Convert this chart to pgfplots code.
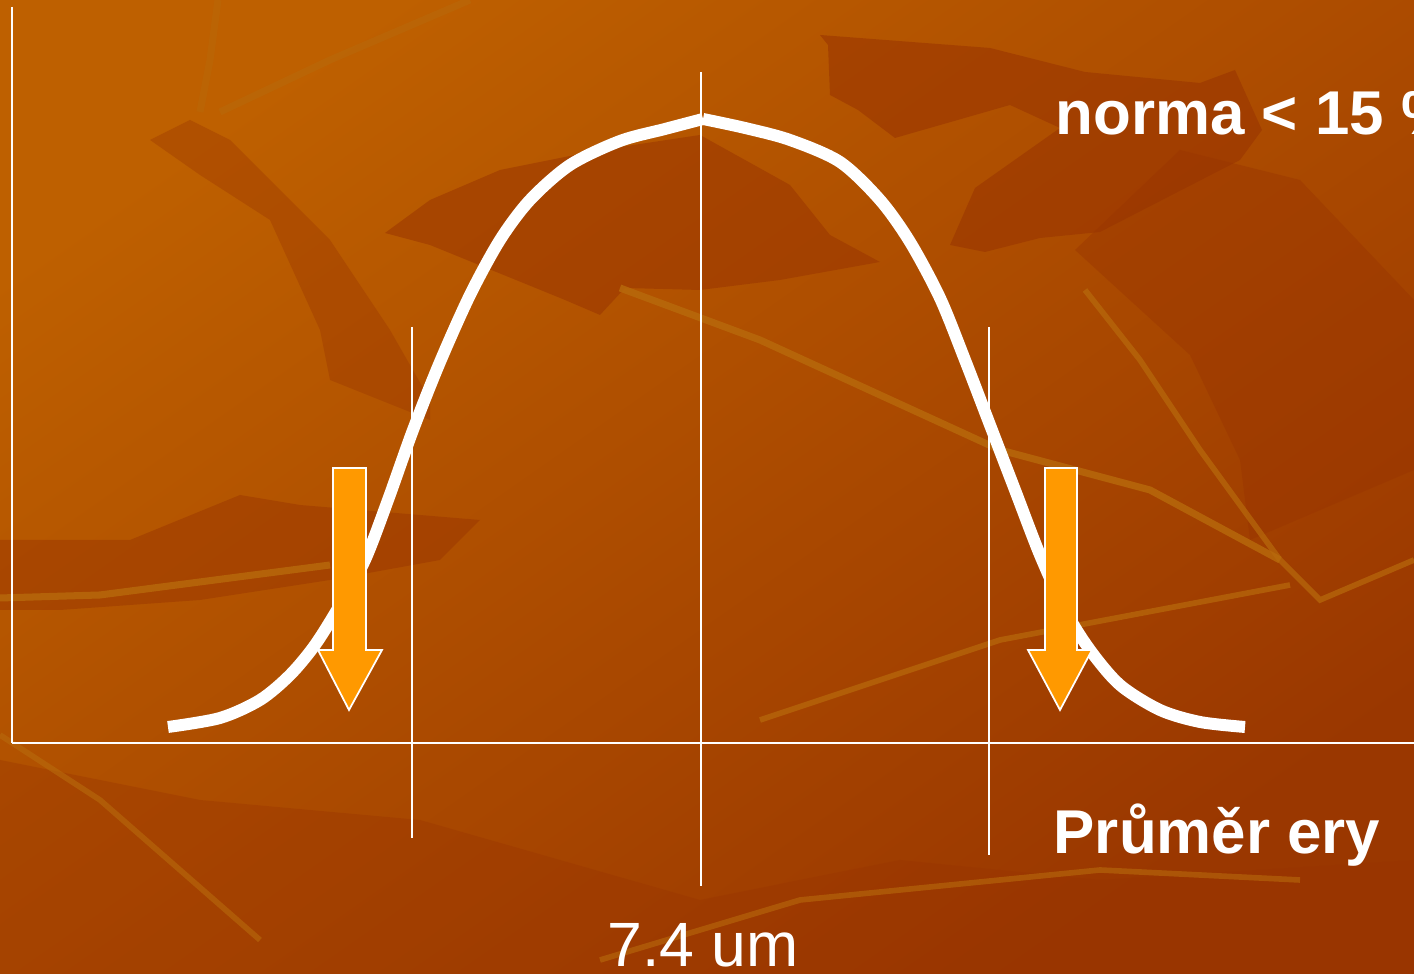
\documentclass[border=0pt]{standalone}
\usepackage{pgfplots}
\pgfplotsset{compat=1.18}
\usepackage{fontspec}
\setmainfont{Liberation Sans}
\definecolor{bgA}{HTML}{BE6000}
\definecolor{bgB}{HTML}{9A3700}
\definecolor{leafD}{HTML}{983300}
\definecolor{vein}{HTML}{B86A0C}
\definecolor{arrowor}{HTML}{FF9900}
\begin{document}
\begin{tikzpicture}
\path[use as bounding box] (0,0) rectangle (14.14cm,9.74cm);
\clip (0,0) rectangle (14.14cm,9.74cm);
\begin{axis}[at={(0,0)}, anchor=south west,
  width=14.14cm, height=9.74cm, scale only axis,
  xmin=0, xmax=1414, ymin=0, ymax=974, y dir=reverse,
  hide axis, clip=false]
% background
\addplot[draw=none, top color=bgA, bottom color=bgB, shading angle=35]
  coordinates {(0,0) (1414,0) (1414,974) (0,974)} -- cycle;
% dark leaf shapes
\addplot[draw=none, fill=leafD, fill opacity=0.55]
  coordinates {(820,35) (990,48) (1085,72) (1200,83) (1235,70) (1262,130) (1240,160) (1100,232) (1040,238) (985,252) (950,245) (975,188) (1060,128) (1010,105) (895,138) (858,110) (830,95) (828,45)} -- cycle;
\addplot[draw=none, fill=leafD, fill opacity=0.5]
  coordinates {(700,135) (790,185) (830,235) (880,262) (780,280) (700,290) (625,288) (600,315) (565,300) (430,245) (385,233) (430,200) (500,170) (600,150)} -- cycle;
\addplot[draw=none, fill=leafD, fill opacity=0.35]
  coordinates {(190,120) (230,140) (330,240) (390,330) (430,400) (430,420) (330,380) (320,330) (270,220) (200,175) (150,140)} -- cycle;
\addplot[draw=none, fill=leafD, fill opacity=0.45]
  coordinates {(0,540) (130,540) (240,495) (300,505) (480,520) (440,560) (330,580) (200,600) (60,610) (0,610)} -- cycle;
\addplot[draw=none, fill=leafD, fill opacity=0.4]
  coordinates {(1075,250) (1190,355) (1240,460) (1250,540) (1414,470) (1414,300) (1300,180) (1180,150)} -- cycle;
\addplot[draw=none, fill=leafD, fill opacity=0.35]
  coordinates {(0,760) (200,800) (420,820) (700,900) (900,860) (1100,880) (1414,860) (1414,974) (0,974)} -- cycle;
% light veins
\addplot[vein, line width=2pt, opacity=0.8] coordinates {(0,598) (100,595) (330,565)};
\addplot[vein, line width=2pt, opacity=0.8] coordinates {(620,288) (760,340) (1000,450) (1150,490) (1280,560)};
\addplot[vein, line width=1.6pt, opacity=0.7] coordinates {(1085,290) (1140,360) (1200,450) (1280,560) (1320,600) (1414,560)};
\addplot[vein, line width=1.6pt, opacity=0.7] coordinates {(760,720) (1000,640) (1290,585)};
\addplot[vein, line width=1.6pt, opacity=0.6] coordinates {(0,735) (100,800) (260,940)};
\addplot[vein, line width=1.6pt, opacity=0.6] coordinates {(600,960) (800,900) (1100,870) (1300,880)};
\addplot[vein, line width=2pt, opacity=0.5] coordinates {(470,0) (330,60) (220,112)};
\addplot[vein, line width=2pt, opacity=0.4] coordinates {(218,0) (210,60) (200,112)};
% axis-like white lines
\addplot[white, line width=0.6pt] coordinates {(12,7) (12,743)};
\addplot[white, line width=0.6pt] coordinates {(12,743) (1414,743)};
\addplot[white, line width=0.6pt] coordinates {(412,327) (412,838)};
\addplot[white, line width=0.6pt] coordinates {(701,72) (701,886)};
\addplot[white, line width=0.6pt] coordinates {(989,327) (989,855)};
% bell curve (two halves meeting at a cusp)
\addplot[white, line width=3.4pt, smooth] coordinates {
  (168,727) (220,718) (260,700) (290,675) (315,645) (340,605) (365,560)
  (388,500) (413,430) (440,362) (470,295) (500,240) (530,200) (570,165)
  (620,141) (665,129) (703,119)};
\addplot[white, line width=3.4pt, smooth] coordinates {
  (703,119) (745,128) (790,140) (840,162) (880,200) (910,242) (940,298)
  (965,360) (990,425) (1015,490) (1040,555) (1065,610) (1090,650)
  (1120,685) (1160,710) (1200,722) (1245,727)};
% arrows
\addplot[fill=arrowor, draw=white, line width=0.5pt] coordinates {
  (333,468) (366,468) (366,650) (382,650) (349,710) (318,650) (333,650)} -- cycle;
\addplot[fill=arrowor, draw=white, line width=0.5pt] coordinates {
  (1045,468) (1077,468) (1077,650) (1092,650) (1060,710) (1028,650) (1045,650)} -- cycle;
% texts
\node[anchor=base west, text=white, inner sep=0pt, font=\bfseries\fontsize{17.6}{20}\selectfont] at (axis cs:1055,135) {norma < 15 \%};
\node[anchor=base west, text=white, inner sep=0pt, font=\bfseries\fontsize{17.6}{20}\selectfont] at (axis cs:1053,854) {Průměr ery};
\node[anchor=base, text=white, inner sep=0pt, font=\fontsize{17.8}{20}\selectfont] at (axis cs:703,967) {7.4 um};
\end{axis}
\end{tikzpicture}
\end{document}
